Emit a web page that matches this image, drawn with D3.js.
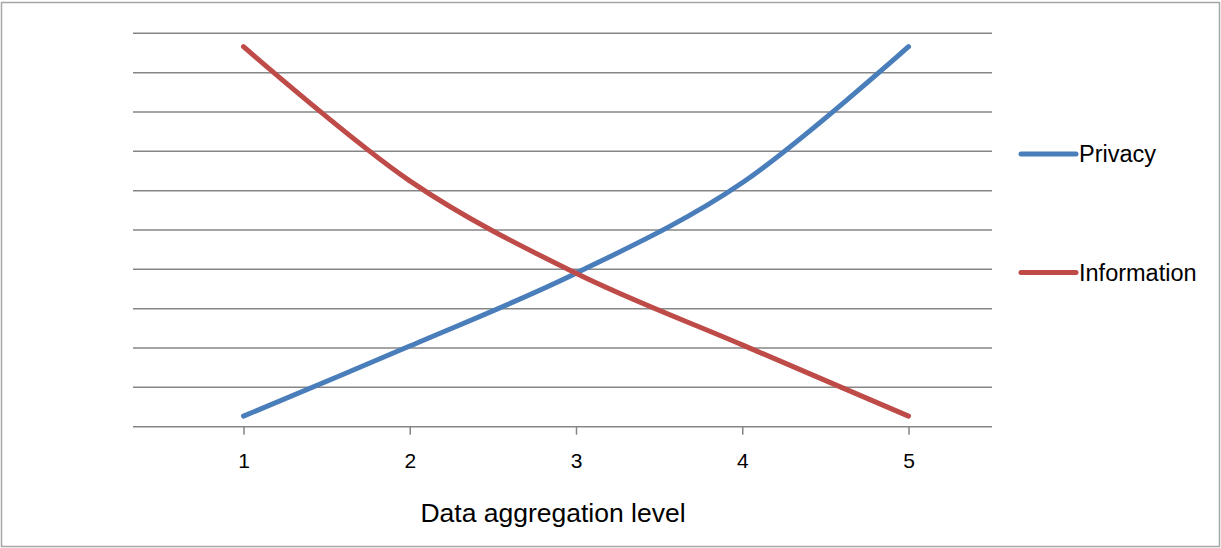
<!DOCTYPE html>
<html>
<head>
<meta charset="utf-8">
<script src="https://cdn.jsdelivr.net/npm/d3@7"></script>
<style>
  body { margin: 0; background: #fff; }
  svg text { font-family: "Liberation Sans", Arial, sans-serif; fill: #000; }
</style>
</head>
<body>
<svg width="1221" height="548"></svg>
<script>
// data
var levels = [1, 2, 3, 4, 5];
var privacy = [0.27, 2.05, 3.9, 6.2, 9.66];
var information = [9.66, 6.25, 3.9, 2.08, 0.27];
var seriesNames = ["Privacy", "Information"];
var seriesColors = ["#4A7EBB", "#BE4B48"];
var yTicks = [1, 2, 3, 4, 5, 6, 7, 8, 9, 10];

var svg = d3.select("svg");

// chart frame
svg.append("rect")
  .attr("x", 1.5).attr("y", 2.5)
  .attr("width", 1218).attr("height", 544)
  .attr("fill", "#fff")
  .attr("stroke", "#a6a6a6")
  .attr("stroke-width", 1.5);

var plotLeft = 133, plotRight = 992;

var x = d3.scaleLinear().domain([1, 5]).range([243.5, 908.5]);
var y = d3.scaleLinear().domain([0, 10]).range([426.7, 33.3]);

// gridlines
svg.append("g")
  .selectAll("line")
  .data(yTicks)
  .enter()
  .append("line")
  .attr("x1", plotLeft).attr("x2", plotRight)
  .attr("y1", d => y(d)).attr("y2", d => y(d))
  .attr("stroke", "#868686")
  .attr("stroke-width", 1.5);

// x axis
var xAxis = d3.axisBottom(x)
  .tickValues(levels)
  .tickSize(8)
  .tickPadding(18)
  .tickFormat(d3.format("d"));

var gx = svg.append("g")
  .attr("transform", "translate(0," + y(0) + ")")
  .call(xAxis);

gx.select(".domain").remove();
gx.append("line")
  .attr("x1", plotLeft).attr("x2", plotRight)
  .attr("stroke", "#868686")
  .attr("stroke-width", 1.5);
gx.selectAll(".tick line").attr("stroke", "#868686").attr("stroke-width", 1.5);
gx.selectAll(".tick text")
  .style("font-size", "21px")
  .attr("fill", "#000");

svg.append("text")
  .attr("x", 553)
  .attr("y", 521.5)
  .attr("text-anchor", "middle")
  .style("font-size", "26.5px")
  .text("Data aggregation level");

// lines
var line = d3.line()
  .x((d, i) => x(levels[i]))
  .y(d => y(d))
  .curve(d3.curveCatmullRom.alpha(0));

var series = [privacy, information];

svg.append("g")
  .selectAll("path")
  .data(series)
  .enter()
  .append("path")
  .attr("d", d => line(d))
  .attr("fill", "none")
  .attr("stroke", (d, i) => seriesColors[i])
  .attr("stroke-width", 5)
  .attr("stroke-linecap", "round")
  .attr("stroke-linejoin", "round");

// legend
var legendY = [154, 272.5];
var legend = svg.append("g")
  .selectAll("g")
  .data(seriesNames)
  .enter()
  .append("g")
  .attr("transform", (d, i) => "translate(1021," + legendY[i] + ")");

legend.append("line")
  .attr("x1", 0).attr("x2", 55)
  .attr("stroke", (d, i) => seriesColors[i])
  .attr("stroke-width", 5)
  .attr("stroke-linecap", "round");

legend.append("text")
  .attr("x", 58)
  .attr("y", 8)
  .style("font-size", "23.5px")
  .text(d => d);
</script>
</body>
</html>
